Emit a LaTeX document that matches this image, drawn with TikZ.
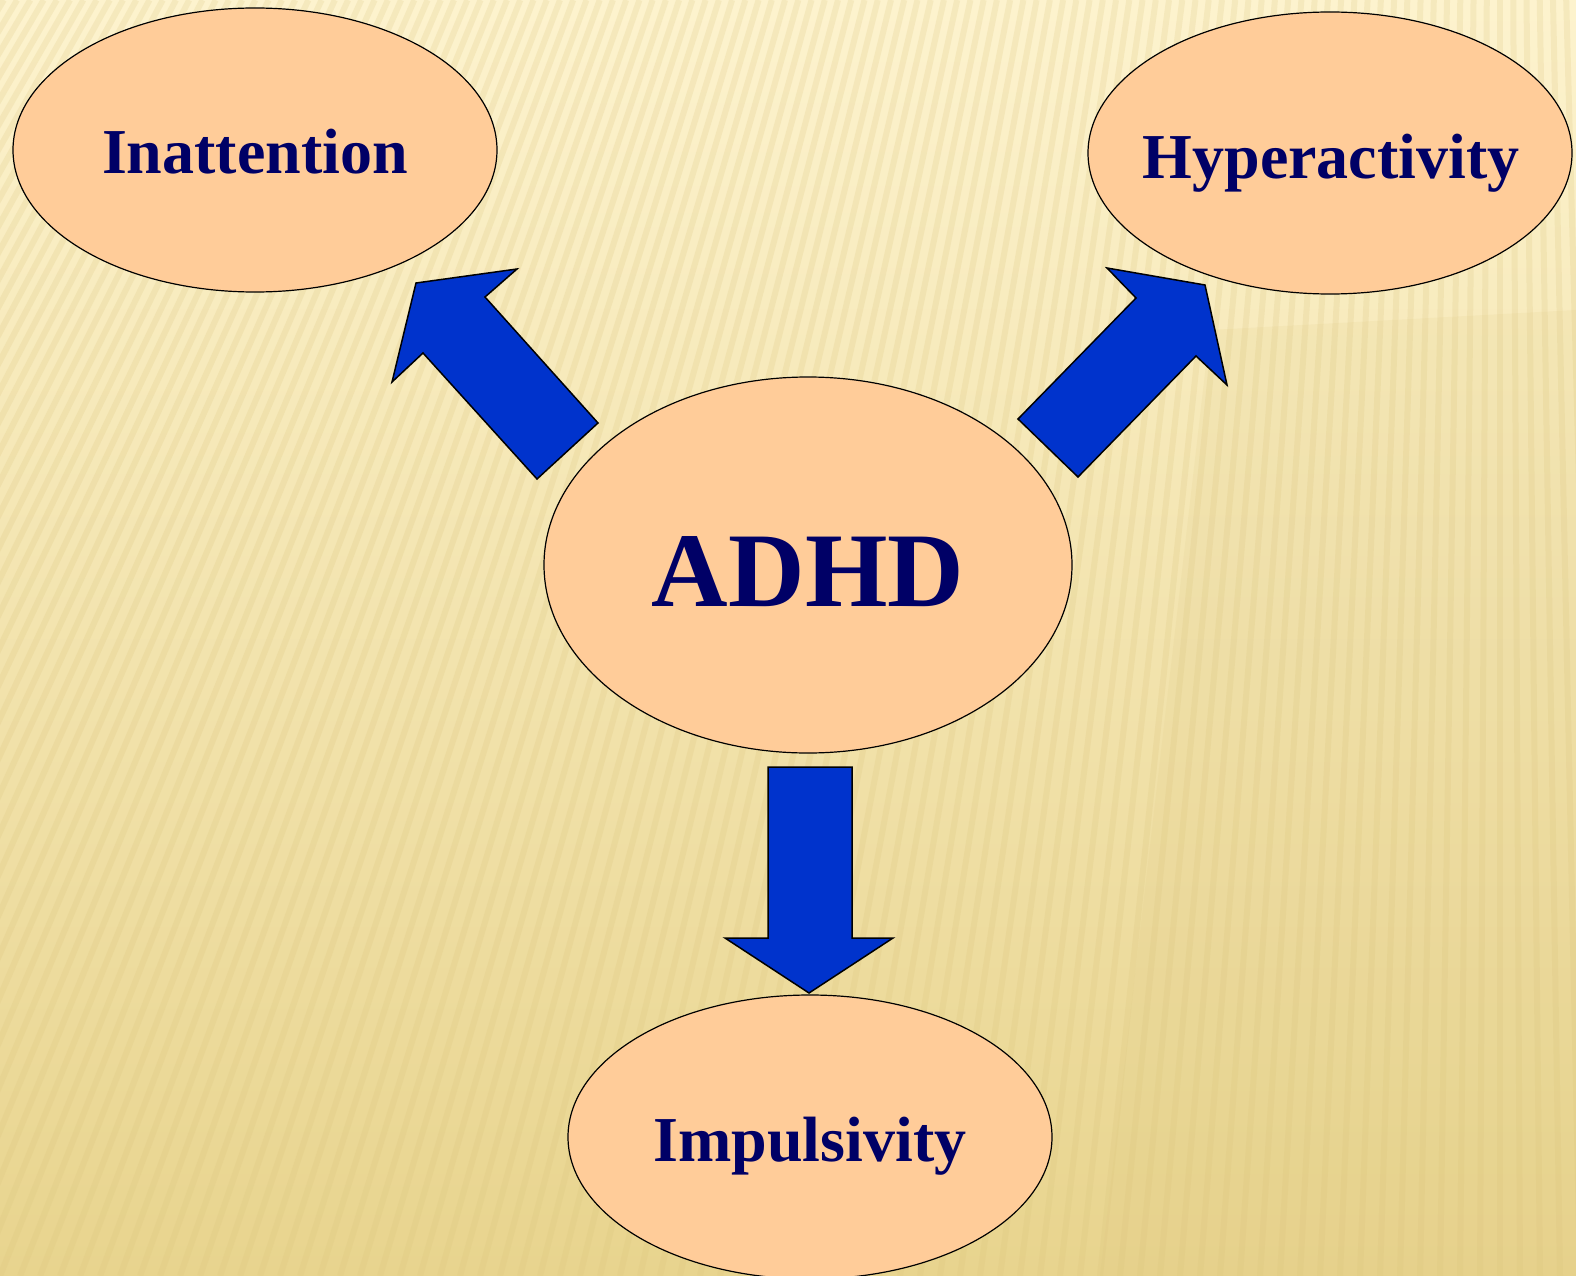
\documentclass[tikz,border=0pt]{standalone}
\usepackage{fontspec}
\setmainfont{Liberation Serif}
\usetikzlibrary{shapes.geometric}
\definecolor{bgtop}{HTML}{FDF3CE}
\definecolor{bgbot}{HTML}{E8D48E}
\definecolor{stripe}{HTML}{D9C27A}
\definecolor{peach}{HTML}{FFCC99}
\definecolor{arrowblue}{HTML}{0033CC}
\definecolor{navy}{HTML}{000066}
\tikzset{
  bubble/.style={ellipse, draw=black, line width=1.2pt, fill=peach, inner sep=0pt},
  label/.style={anchor=base, text=navy, font=\bfseries},
  blockarrow/.style={draw=black, line width=1.5pt, fill=arrowblue, line join=miter}
}
\begin{document}
\begin{tikzpicture}[x=1pt,y=-1pt]
% background
\path[top color=bgtop, bottom color=bgbot] (0,0) rectangle (1576,1276);
\useasboundingbox (0,0) rectangle (1576,1276);
\begin{scope}
\clip (0,0) rectangle (1576,1276);
\fill[stripe, opacity=0.12] (1210,330) -- (1576,310) -- (1576,1276) -- (1100,1276) -- cycle;
\foreach \b in {-900,-880,...,1700}{
  \pgfmathsetmacro{\t}{1500+(\b-1500)*0.662}
  \draw[stripe, opacity=0.2, line width=6pt] (\t,0) -- (\b,1276);
}
\end{scope}
% ellipses
\node[bubble, minimum width=484pt, minimum height=284pt] (inatt) at (255,150) {};
\node[bubble, minimum width=484pt, minimum height=282pt] (hyper) at (1330,153) {};
\node[bubble, minimum width=528pt, minimum height=376pt] (adhd) at (808,565) {};
\node[bubble, minimum width=484pt, minimum height=284pt] (impul) at (810,1137) {};
% texts
\node[label, font=\bfseries\fontsize{64}{64}\selectfont] (tinatt) at (255,174) {Inattention};
\node[label, font=\bfseries\fontsize{64}{64}\selectfont] (thyper) at (1331,179) {Hyperactivity};
\node[label, font=\bfseries\fontsize{106}{106}\selectfont] (tadhd) at (808,606) {ADHD};
\node[label, font=\bfseries\fontsize{64}{64}\selectfont] (timpul) at (810,1161) {Impulsivity};
% block arrows
\draw[blockarrow] (537,479) -- (598,423) -- (485,297) -- (517,269) -- (416,283) -- (392,382) -- (423,353) -- cycle;
\draw[blockarrow] (1018,419) -- (1078,477) -- (1196,356) -- (1227,385) -- (1205,285) -- (1107,268) -- (1136,298) -- cycle;
\draw[blockarrow] (768,767) -- (852,767) -- (852,938) -- (893,938) -- (809,993) -- (725,938) -- (768,938) -- cycle;
\end{tikzpicture}
\end{document}
